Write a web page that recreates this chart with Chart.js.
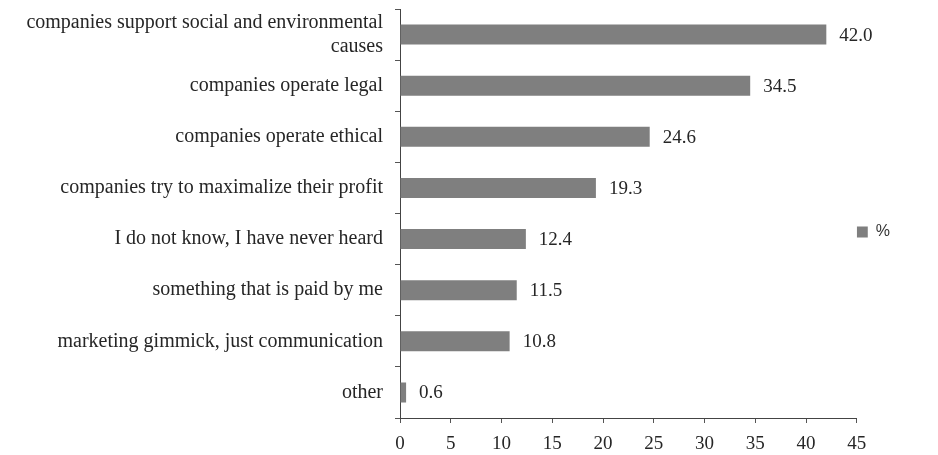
<!DOCTYPE html>
<html>
<head>
<meta charset="utf-8">
<script src="https://cdn.jsdelivr.net/npm/chart.js@4"></script>
<style>
  html, body { margin: 0; padding: 0; background: #fff; }
  #wrap { width: 938px; height: 455px; }
</style>
</head>
<body>
<div id="wrap"><canvas id="myChart" width="938" height="455"></canvas></div>
<script>
const categories = [
    ['companies support social and environmental', 'causes'],
    'companies operate legal',
    'companies operate ethical',
    'companies try to maximalize their profit',
    'I do not know, I have never heard',
    'something that is paid by me',
    'marketing gimmick, just communication',
    'other'
];
const percentValues = [42.0, 34.5, 24.6, 19.3, 12.4, 11.5, 10.8, 0.6];
const xTicks = [0, 5, 10, 15, 20, 25, 30, 35, 40, 45];

// value labels at the end of each bar
const valueLabels = {
    id: 'valueLabels',
    afterDatasetsDraw(chart) {
        const c = chart.ctx;
        const meta = chart.getDatasetMeta(0);
        c.save();
        c.font = '19px "Liberation Serif", serif';
        c.fillStyle = '#262626';
        c.textAlign = 'left';
        c.textBaseline = 'middle';
        meta.data.forEach(function (bar, i) {
            c.fillText(percentValues[i].toFixed(1), bar.x + 13, bar.y + 1);
        });
        c.restore();
    }
};

const ctx = document.getElementById('myChart').getContext('2d');
chart = new Chart(ctx, {
    type: 'bar',
    data: {
        labels: categories,
        datasets: [{
            label: '%',
            data: percentValues,
            backgroundColor: '#7f7f7f',
            barPercentage: 0.39,
            categoryPercentage: 1
        }]
    },
    plugins: [valueLabels],
    options: {
        indexAxis: 'y',
        responsive: false,
        animation: false,
        layout: {
            padding: { top: 9, right: 38, bottom: 0, left: 0 }
        },
        scales: {
            x: {
                min: 0,
                max: 45,
                afterBuildTicks: function (scale) {
                    scale.ticks = xTicks.map(v => ({ value: v }));
                },
                afterFit: function (scale) {
                    scale.height = 37;
                },
                grid: {
                    drawOnChartArea: false,
                    tickLength: 5,
                    color: '#555'
                },
                border: { color: '#444', width: 1 },
                ticks: {
                    padding: 10,
                    color: '#262626',
                    font: { family: '"Liberation Serif", serif', size: 19 }
                }
            },
            y: {
                afterFit: function (scale) {
                    scale.width = 400;
                    scale.paddingTop = 0;
                    scale.paddingBottom = 0;
                },
                grid: {
                    offset: true,
                    drawOnChartArea: false,
                    tickLength: 5,
                    color: '#555'
                },
                border: { color: '#444', width: 1 },
                ticks: {
                    autoSkip: false,
                    padding: 12,
                    color: '#262626',
                    font: { family: '"Liberation Serif", serif', size: 20 }
                }
            }
        },
        plugins: {
            legend: {
                position: 'right',
                labels: {
                    boxWidth: 11,
                    boxHeight: 11,
                    padding: 0,
                    color: '#333',
                    font: { family: '"Liberation Sans", sans-serif', size: 16 }
                }
            },
            tooltip: { enabled: false }
        }
    }
});
</script>
</body>
</html>
